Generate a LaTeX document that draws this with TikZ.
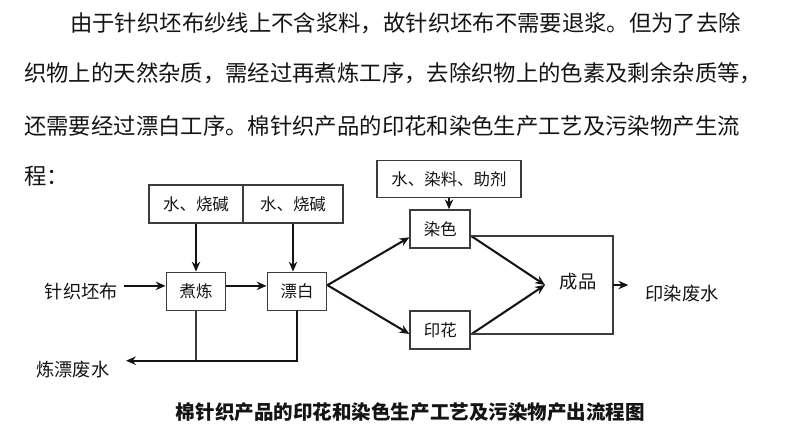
\documentclass[tikz,border=0pt]{standalone}
\usepackage{fontspec}
\setmainfont{Noto Sans CJK SC}
\usetikzlibrary{arrows.meta,positioning}
\definecolor{fInk}{RGB}{20,20,20}
\definecolor{fEdge}{RGB}{60,60,60}

\begin{document}
\begin{tikzpicture}[
  x=0.025cm,y=-0.025cm,
  >={Stealth[length=7pt,width=6pt]},
  para/.style={anchor=west,inner sep=0pt,text=fInk,font=\fontsize{15.9}{18}\selectfont},
  box/.style={
    draw=fEdge,line width=1.35pt,inner sep=0pt,
    minimum height=0.95cm,font=\fontsize{11.7}{13}\selectfont,text=fInk
  },
  lbl/.style={inner sep=4pt,text=fInk,font=\fontsize{13}{15}\selectfont},
  arr/.style={->,fInk,line width=1.45pt},
  ln/.style={fEdge,line width=1.35pt}
  ]
  \useasboundingbox (0,0) rectangle (796,437);

  % paragraph above the chart
  \node[para] (p1) at (70,23)  {由于针织坯布纱线上不含浆料，故针织坯布不需要退浆。但为了去除};
  \node[para] (p2) at (24,73)  {织物上的天然杂质，需经过再煮炼工序，去除织物上的色素及剩余杂质等，};
  \node[para] (p3) at (24,126) {还需要经过漂白工序。棉针织产品的印花和染色生产工艺及污染物产生流};
  \node[para] (p4) at (24,176) {程：};

  % process boxes
  \node[box,minimum width=2.35cm]  (in1) at (196,204)   {水、烧碱};
  \node[box,minimum width=2.5cm]   (in2) at (293,204)   {水、烧碱};
  \node[box,minimum width=1.475cm] (zl)  at (196,291.5) {煮炼};
  \node[box,minimum width=1.475cm] (pb)  at (297,291.5) {漂白};
  \node[box,minimum width=3.59cm,minimum height=0.925cm] (dye) at (449,179) {水、染料、助剂};
  \node[box,minimum width=1.5cm,minimum height=0.94cm]   (rs)  at (440.3,229) {染色};
  \node[box,minimum width=1.5cm,minimum height=0.94cm]   (yh)  at (440.3,330) {印花};

  % free labels
  \node[lbl] (src)  at (81.5,291.5) {针织坯布};
  \node[lbl] (lpfs) at (73,370)     {炼漂废水};
  \node[lbl] (cp)   at (578,282)    {成品};
  \node[lbl] (yrfs) at (682,294)    {印染废水};

  \coordinate (merge) at (545,285);
  \coordinate (frame) at (612.7,285);
  \coordinate (otip)  at (628.3,285);
  \coordinate (wtip)  at (126,360.7);

  % pretreatment
  \draw[arr] ([yshift=4pt]src.east) -- ([yshift=4pt]zl.west);
  \draw[arr] ([yshift=4pt]zl.east) -- ([yshift=4pt]pb.west);
  \draw[arr] (in1) -- (zl);
  \draw[arr] (in2.south) -- (in2.south |- pb.north);
  \draw[ln] (zl.south) -- (zl.south |- wtip);
  \draw[arr] (pb.south) |- (wtip);

  % dyeing and printing
  \draw[arr] ([yshift=4.5pt]pb.east) -- ([yshift=-5.9pt]rs.west);
  \draw[arr] ([yshift=4.5pt]pb.east) -- ([yshift=-2.8pt]yh.west);
  \draw[arr] (dye.south) -- (dye.south |- rs.north);
  \draw[arr] ([yshift=-5pt]rs.east) -- (merge);
  \draw[arr] ([yshift=-3pt]yh.east) -- (merge);
  \draw[ln] ([yshift=-5pt]rs.east) -| (frame) |- ([yshift=-3pt]yh.east);
  \draw[arr] (frame) -- (otip);

  \node[font=\bfseries\fontsize{13.9}{15}\selectfont,text=fInk,inner sep=0pt] (cap)
    at (410.5,411.7) {棉针织产品的印花和染色生产工艺及污染物产出流程图};
\end{tikzpicture}
\end{document}
